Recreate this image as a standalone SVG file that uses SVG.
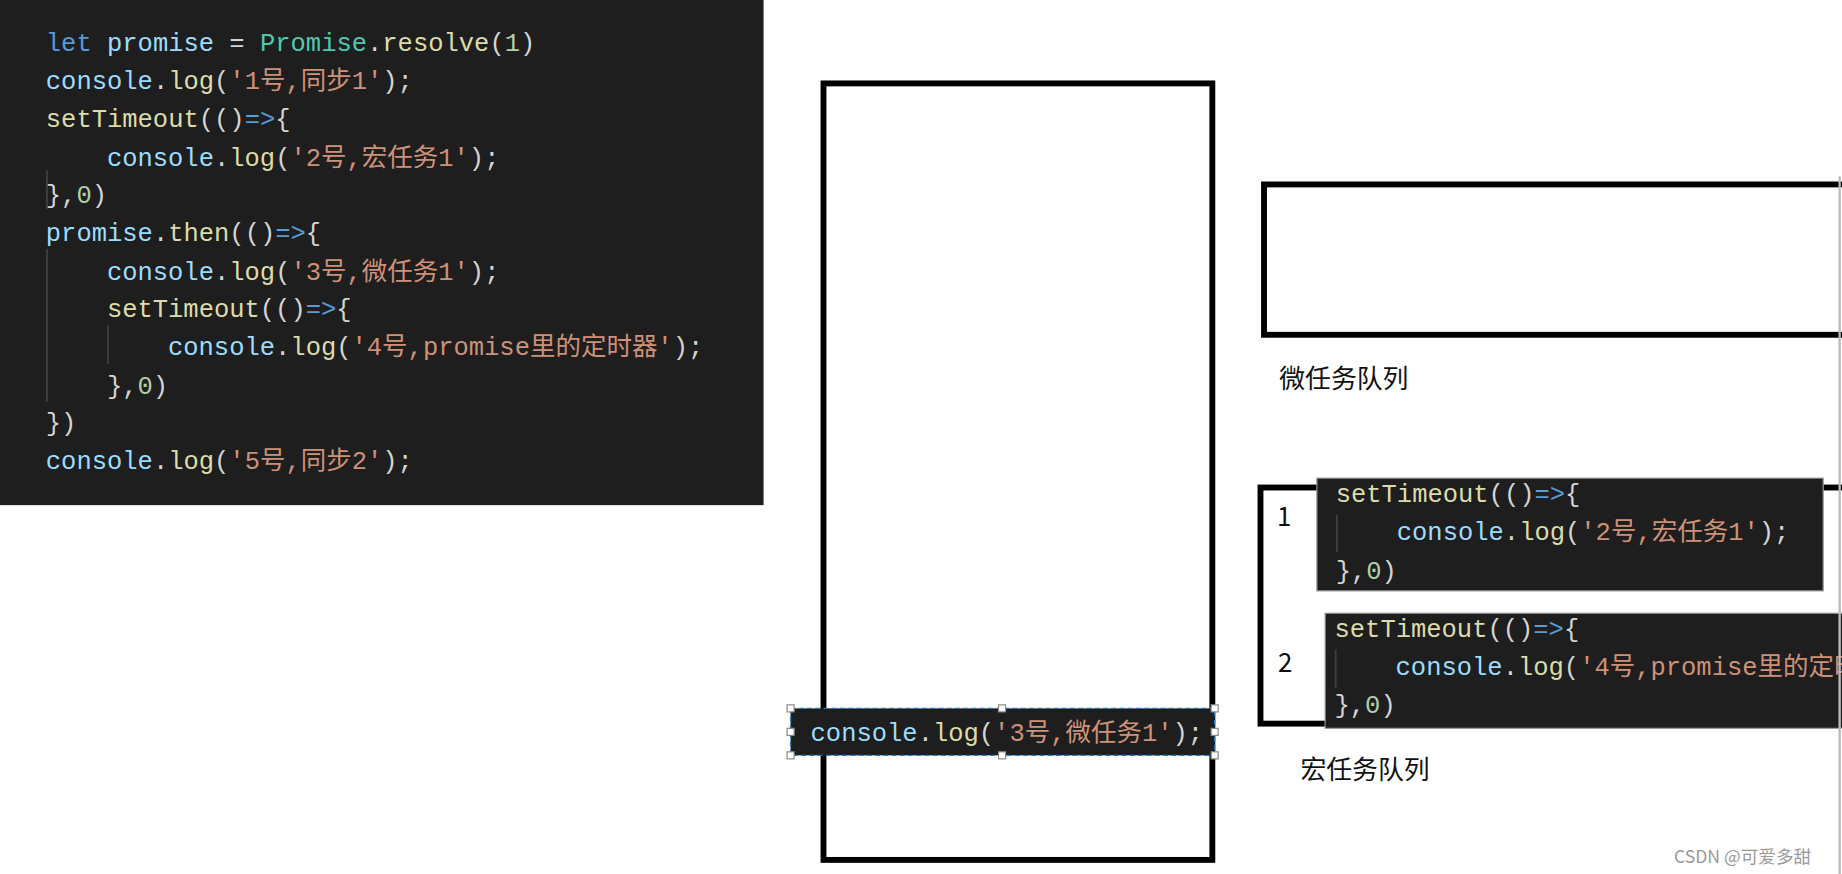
<svg xmlns="http://www.w3.org/2000/svg" width="1842" height="874" viewBox="0 0 1842 874">
<defs>
<style>
.c{font-family:"Liberation Mono","Noto Sans CJK SC",monospace;font-size:21.7px;fill:#d4d4d4;white-space:pre}
.k{fill:#569cd6}.v{fill:#9cdcfe}.t{fill:#4ec9b0}.f{fill:#dcdcaa}.s{fill:#ce9178}.n{fill:#b5cea8}
.lbl{font-family:"Noto Sans CJK SC","Noto Sans",sans-serif;font-size:22px;fill:#111}
.box{fill:none;stroke:#000;stroke-width:5}
.guide{stroke:#404040;stroke-width:1.5}
.h{fill:#fff;stroke:#888;stroke-width:1}
</style>
<clipPath id="selclip"><rect x="673" y="603" width="360" height="40"/></clipPath>
</defs>
<rect width="1842" height="874" fill="#fff"/>
<g transform="scale(1.17474)">
<g id="code">
<rect x="0" y="0" width="650" height="430" fill="#1e1e1e"/>
<line class="guide" x1="40" y1="145" x2="40" y2="178"/>
<line class="guide" x1="40" y1="212" x2="40" y2="342"/>
<line class="guide" x1="92" y1="277" x2="92" y2="310"/>
<text class="c" x="39" y="43"><tspan class="k">let</tspan> <tspan class="v">promise</tspan> = <tspan class="t">Promise</tspan>.<tspan class="f">resolve</tspan>(<tspan class="n">1</tspan>)</text>
<text class="c" x="39" y="76"><tspan class="v">console</tspan>.<tspan class="f">log</tspan>(<tspan class="s">'1号,同步1'</tspan>);</text>
<text class="c" x="39" y="108"><tspan class="f">setTimeout</tspan>(()<tspan class="k">=&gt;</tspan>{</text>
<text class="c" x="91" y="141"><tspan class="v">console</tspan>.<tspan class="f">log</tspan>(<tspan class="s">'2号,宏任务1'</tspan>);</text>
<text class="c" x="39" y="173">},<tspan class="n">0</tspan>)</text>
<text class="c" x="39" y="205"><tspan class="v">promise</tspan>.<tspan class="f">then</tspan>(()<tspan class="k">=&gt;</tspan>{</text>
<text class="c" x="91" y="238"><tspan class="v">console</tspan>.<tspan class="f">log</tspan>(<tspan class="s">'3号,微任务1'</tspan>);</text>
<text class="c" x="91" y="270"><tspan class="f">setTimeout</tspan>(()<tspan class="k">=&gt;</tspan>{</text>
<text class="c" x="143" y="302"><tspan class="v">console</tspan>.<tspan class="f">log</tspan>(<tspan class="s">'4号,promise里的定时器'</tspan>);</text>
<text class="c" x="91" y="335">},<tspan class="n">0</tspan>)</text>
<text class="c" x="39" y="367">})</text>
<text class="c" x="39" y="399"><tspan class="v">console</tspan>.<tspan class="f">log</tspan>(<tspan class="s">'5号,同步2'</tspan>);</text>
</g>
<g id="stack">
<rect class="box" x="701" y="71" width="331" height="661"/>
</g>
<g id="microQueue">
<rect class="box" x="1076" y="157" width="510" height="128"/>
<text class="lbl" x="1089" y="330">微任务队列</text>
</g>
<g id="macroQueue">
<rect class="box" x="1073" y="415" width="510" height="201"/>
<text class="lbl" x="1087" y="448">1</text>
<text class="lbl" x="1088" y="572">2</text>
<text class="lbl" x="1107" y="663">宏任务队列</text>
</g>
<g id="task1">
<rect x="1121" y="407" width="431" height="96" fill="#1e1e1e" stroke="#999" stroke-width="1"/>
<line class="guide" x1="1138" y1="438" x2="1138" y2="470"/>
<text class="c" x="1137" y="427"><tspan class="f">setTimeout</tspan>(()<tspan class="k">=&gt;</tspan>{</text>
<text class="c" x="1189" y="460"><tspan class="v">console</tspan>.<tspan class="f">log</tspan>(<tspan class="s">'2号,宏任务1'</tspan>);</text>
<text class="c" x="1137" y="493">},<tspan class="n">0</tspan>)</text>
</g>
<g id="task2">
<rect x="1128" y="522" width="450" height="98" fill="#1e1e1e" stroke="#999" stroke-width="1"/>
<line class="guide" x1="1137" y1="553" x2="1137" y2="586"/>
<text class="c" x="1136" y="542"><tspan class="f">setTimeout</tspan>(()<tspan class="k">=&gt;</tspan>{</text>
<text class="c" x="1188" y="575"><tspan class="v">console</tspan>.<tspan class="f">log</tspan>(<tspan class="s">'4号,promise里的定时器'</tspan>);</text>
<text class="c" x="1136" y="607">},<tspan class="n">0</tspan>)</text>
</g>
<line x1="1566" y1="150" x2="1566" y2="744" stroke="#bbb" stroke-width="2"/>
<g id="selected">
<rect x="673" y="603" width="361" height="40" fill="#1e1e1e"/>
<text class="c" x="690" y="631" clip-path="url(#selclip)"><tspan class="v">console</tspan>.<tspan class="f">log</tspan>(<tspan class="s">'3号,微任务1'</tspan>);</text>
<rect x="673" y="603" width="361" height="40" fill="none" stroke="#1e78d0" stroke-width="1.2" stroke-dasharray="4 3"/>
<rect class="h" x="670" y="600" width="6" height="6"/><rect class="h" x="850" y="600" width="6" height="6"/><rect class="h" x="1031" y="600" width="6" height="6"/>
<rect class="h" x="670" y="620" width="6" height="6"/><rect class="h" x="1031" y="620" width="6" height="6"/>
<rect class="h" x="670" y="640" width="6" height="6"/><rect class="h" x="850" y="640" width="6" height="6"/><rect class="h" x="1031" y="640" width="6" height="6"/>
</g>
<text x="1425" y="735" font-family="Noto Sans CJK SC,sans-serif" font-size="15" fill="#999">CSDN @可爱多甜</text>
</g>
</svg>
